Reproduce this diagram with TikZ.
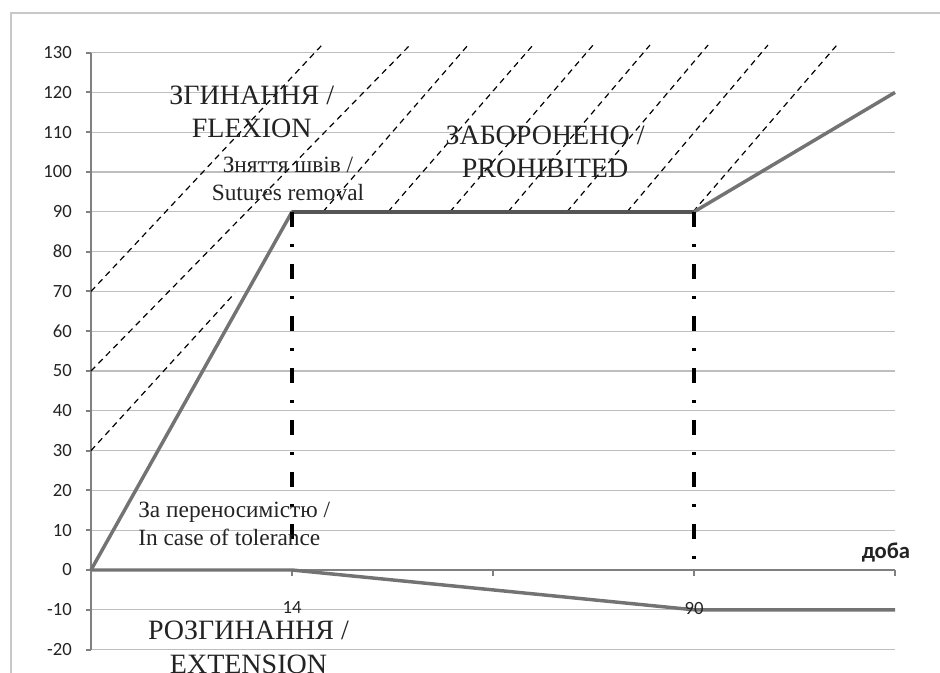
\documentclass[tikz,border=0pt]{standalone}
\usepackage{fontspec}
\setmainfont{Liberation Serif}
\newfontfamily\axisfont{Carlito}
\usepackage{tikz}

\definecolor{gridgray}{RGB}{190,190,190}
\definecolor{axisgray}{RGB}{128,128,128}
\definecolor{curvegray}{RGB}{115,115,115}
\definecolor{flatgray}{RGB}{85,85,85}
\definecolor{framegray}{RGB}{200,200,200}
\definecolor{textdark}{RGB}{35,35,35}

\begin{document}
\begin{tikzpicture}[x=150.75pt,y=2.985pt,
  gridline/.style={gridgray,line width=0.8pt},
  axisline/.style={axisgray,line width=2.2pt},
  curve/.style={curvegray,line width=2.6pt,line join=round},
  hatch/.style={black,line width=0.9pt,dash pattern=on 4.5pt off 3.5pt},
  marker/.style={black,line width=3pt,dash pattern=on 11.25pt off 12.75pt on 2.25pt off 12.75pt},
  bigtext/.style={text=textdark,font=\fontsize{21}{25}\selectfont,align=center},
  smalltext/.style={text=textdark,font=\fontsize{17.5}{21}\selectfont},
  ticktext/.style={text=textdark,font=\axisfont\fontsize{14}{16}\selectfont}]
\useasboundingbox (-68.25pt,-76.5pt) rectangle (636.75pt,427.5pt);
% frame round the chart
\draw[framegray,line width=1.1pt] (-60pt,-90pt) -- (-60pt,417.75pt) -- (660pt,417.75pt);

% grid and axes
\foreach \v in {-20,-10,...,130}
  \draw[gridline] (0,\v) -- (4,\v);
\draw[axisline] (0,-20) -- (0,130);
\draw[axisline] (0,0) -- (4,0);
\foreach \v in {-20,-10,...,130} {
  \draw[axisgray,line width=1.5pt] (-0.025,\v) -- (0,\v);
  \node[ticktext,anchor=east,inner sep=0pt] (ytick\v) at (-0.0945,\v) {\v};
}
\foreach \c in {1,2,3,4}
  \draw[axisgray,line width=1.5pt] (\c,0) -- (\c,-1.6);

% prohibited zone
\foreach \a/\b/\c/\d in {0/30/0.716/69.6, 0/50/1.587/131.9, 0/70/1.149/131.9,
    1.154/90/1.876/131.9, 1.478/90/2.199/131.9, 1.786/90/2.498/131.9,
    2.075/90/2.781/131.9, 2.368/90/3.070/131.9, 2.667/90/3.368/131.9,
    2.995/90/3.711/131.9}
  \draw[hatch] (\a,\b) -- (\c,\d);

% flexion and extension
\draw[curve] (0,0) -- (1,90) -- (3,90) -- (4,120);
\draw[flatgray,line width=2.6pt] (1,90) -- (3,90);
\draw[curve] (0,0) -- (1,0) -- (3,-10) -- (4,-10);
\draw[marker] (1,90) -- (1,4);
\draw[marker] (3,90) -- (3,1);

\node[bigtext] (flexion) at (0.80,115.1) {ЗГИНАННЯ /\\FLEXION};
\node[smalltext,align=center] (sutures) at (0.98,98.2) {Зняття швів /\\Sutures removal};
\node[bigtext] (prohibited) at (2.259,105) {ЗАБОРОНЕНО /\\PROHIBITED};
\node[smalltext,align=left,anchor=west,inner sep=0pt] (tolerance) at (0.234,11.6) {За переносимістю /\\In case of tolerance};
\node[bigtext,inner sep=1pt] (extension) at (0.7836,-19.4) {РОЗГИНАННЯ /\\EXTENSION};
\node[ticktext] (day14) at (1,-9.5) {14};
\node[ticktext] (day90) at (3,-9.6) {90};
\node[text=textdark,font=\axisfont\bfseries\fontsize{17}{19}\selectfont] (doba) at (3.955,4.5) {доба};
\end{tikzpicture}
\end{document}
